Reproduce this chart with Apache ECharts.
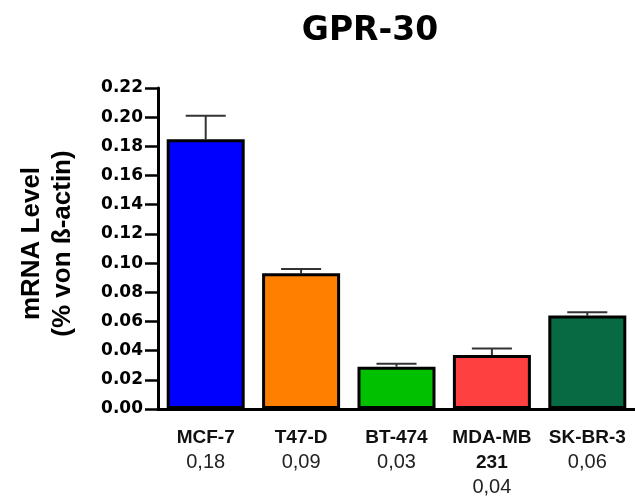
<!DOCTYPE html>
<html>
<head>
<meta charset="utf-8">
<script src="https://cdn.jsdelivr.net/npm/echarts@6/dist/echarts.min.js"></script>
<style>
  html, body { margin: 0; padding: 0; background: #ffffff; }
  #chart { width: 635px; height: 501px; }
</style>
</head>
<body>
<div id="chart"></div>
<script>
// GPR-30 expression per breast cancer cell line (mean with upper SEM)
const cellLines = ['MCF-7', 'T47-D', 'BT-474', 'MDA-MB\n231', 'SK-BR-3'];
const meanLevels = [0.1849, 0.093, 0.029, 0.037, 0.064];
const semLevels = [0.016, 0.003, 0.002, 0.0045, 0.0023];
const barColors = ['#0000ff', '#ff8000', '#00c000', '#ff4040', '#076a42'];
const yMin = 0;
const yMax = 0.22;
const yStep = 0.02;

const boldFont = 'DejaVu Sans';
const plainFont = 'Liberation Sans';

// printed figure below each cell line name, German decimal comma
const formatLevel = v => v.toFixed(2).replace('.', ',');
const labelFor = {};
cellLines.forEach((name, i) => { labelFor[name] = formatLevel(meanLevels[i]); });

const chart = echarts.init(document.getElementById('chart'));

chart.setOption({
  animation: false,
  backgroundColor: '#ffffff',
  title: {
    text: 'GPR-30',
    left: 365,
    top: 10,
    textAlign: 'center',
    textStyle: { fontFamily: boldFont, fontWeight: 'bold', fontSize: 33, color: '#000' }
  },
  grid: { left: 158, right: -8, top: 88, bottom: 92 },
  xAxis: {
    type: 'category',
    data: cellLines,
    axisLine: { show: true, lineStyle: { color: '#000', width: 3 } },
    axisTick: { show: false },
    axisLabel: {
      interval: 0,
      margin: 16,
      formatter: name => {
        const lines = name.split('\n').map(s => '{b|' + s + '}');
        return lines.join('\n') + '\n{v|' + labelFor[name] + '}';
      },
      rich: {
        b: { fontFamily: plainFont, fontWeight: 'bold', fontSize: 19, color: '#111', lineHeight: 25, align: 'center' },
        v: { fontFamily: plainFont, fontWeight: 'normal', fontSize: 20, color: '#222', lineHeight: 25, align: 'center' }
      }
    }
  },
  yAxis: {
    type: 'value',
    min: yMin,
    max: yMax,
    interval: yStep,
    name: 'mRNA Level\n(% von ß-actin)',
    nameLocation: 'middle',
    nameRotate: 90,
    nameGap: 80,
    nameTextStyle: {
      fontFamily: plainFont, fontWeight: 'bold', fontSize: 26, color: '#000',
      lineHeight: 31, align: 'center', padding: [0, 0, 0, 10]
    },
    axisLine: { show: true, lineStyle: { color: '#000', width: 3 } },
    axisTick: { show: true, length: 13, lineStyle: { color: '#000', width: 2.5 } },
    splitLine: { show: false },
    axisLabel: {
      margin: 15,
      formatter: v => v.toFixed(2),
      fontFamily: boldFont,
      fontWeight: 'bold',
      fontSize: 17,
      color: '#000'
    }
  },
  series: [
    {
      type: 'custom',
      z: 1,
      encode: { x: 0, y: 1 },
      data: meanLevels.map((m, i) => [i, m, semLevels[i]]),
      renderItem: (params, api) => {
        const i = api.value(0);
        const mean = api.value(1);
        const err = api.value(2);
        const base = api.coord([i, mean]);
        const tip = api.coord([i, mean + err]);
        const half = api.size([1, 0])[0] * 0.21;
        const style = { stroke: '#333', lineWidth: 2 };
        return {
          type: 'group',
          children: [
            { type: 'line', shape: { x1: base[0], y1: base[1], x2: tip[0], y2: tip[1] }, style },
            { type: 'line', shape: { x1: tip[0] - half, y1: tip[1], x2: tip[0] + half, y2: tip[1] }, style }
          ]
        };
      }
    },
    {
      type: 'bar',
      z: 2,
      barWidth: 78,
      data: meanLevels.map((m, i) => ({
        value: m,
        itemStyle: { color: barColors[i], borderColor: '#000', borderWidth: 3 }
      }))
    }
  ]
});
</script>
</body>
</html>
